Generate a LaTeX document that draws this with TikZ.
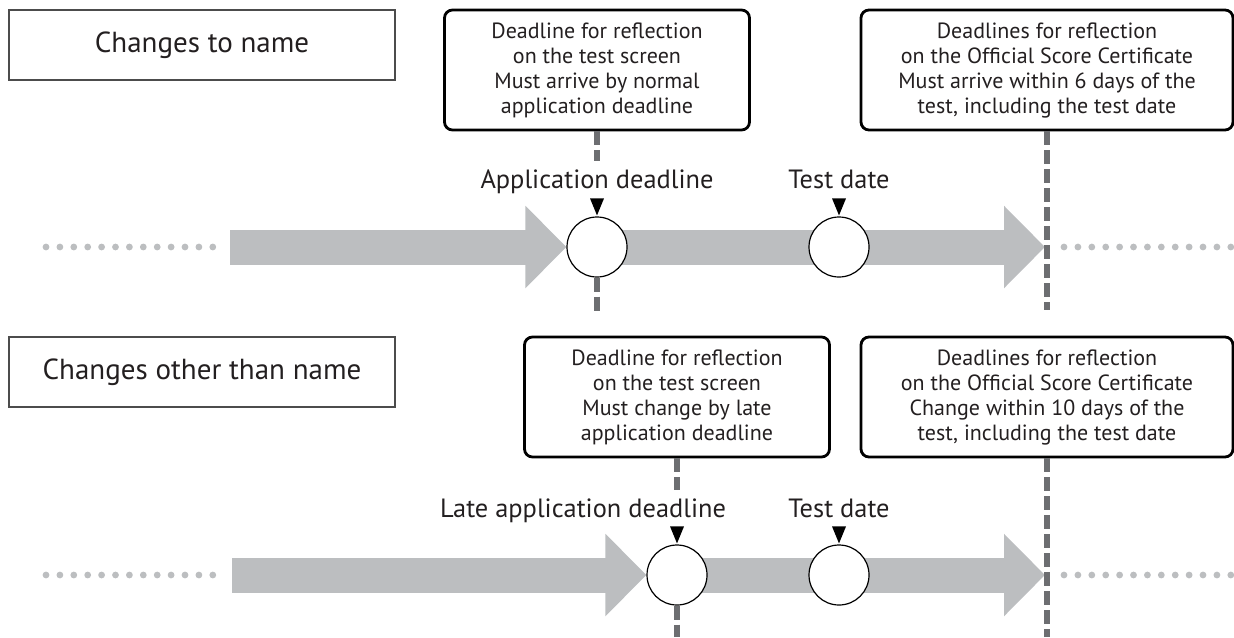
\documentclass[tikz,border=0pt]{standalone}
\usepackage{fontspec}
\setmainfont{PT Sans}
\usetikzlibrary{arrows.meta,backgrounds}
\definecolor{lineGray}{RGB}{188,190,192}
\definecolor{dashGray}{RGB}{109,110,113}
\definecolor{inkDark}{RGB}{35,31,32}

\begin{document}
\begin{tikzpicture}[x=0.5pt, y=-0.5pt, text=inkDark,
    every node/.style={font=\fontsize{11}{12.5}\selectfont},
    rowlabel/.style={draw=black!70, line width=0.7pt, minimum width=193pt, minimum height=35pt, inner sep=0pt, font=\fontsize{14.5}{16}\selectfont},
    notebox/.style={draw=black, line width=1.4pt, rounded corners=4pt, align=center, minimum height=60pt, inner sep=0pt},
    eventdot/.style={circle, draw=black, line width=0.6pt, fill=white, minimum size=30pt, inner sep=0pt},
    datelabel/.style={anchor=base, inner sep=1pt, font=\fontsize{13.2}{15}\selectfont},
    deadline/.style={draw=dashGray, line width=2.6pt, dash pattern=on 7pt off 2.5pt},
    fatarrow/.style={draw=lineGray, line width=17.5pt, -{Triangle[length=20.5pt, width=40pt]}},
    shaft/.style={draw=lineGray, line width=17.5pt}]

\useasboundingbox (0,0) rectangle (1234,637);

% Row labels
\node (nameLbl) at (202,45) [rowlabel] {Changes to name};
\node (otherLbl) at (202,372) [rowlabel] {Changes other than name};

% Note boxes
\node (noteScreenA) at (597,70) [notebox, minimum width=152.5pt] {Deadline for reflection\\on the test screen\\Must arrive by normal\\application deadline};
\node (noteCertA) at (1047,70) [notebox, minimum width=186pt] {Deadlines for reflection\\on the Official Score Certificate\\Must arrive within 6 days of the\\test, including the test date};
\node (noteScreenB) at (677,397) [notebox, minimum width=152.5pt] {Deadline for reflection\\on the test screen\\Must change by late\\application deadline};
\node (noteCertB) at (1047,397) [notebox, minimum width=186pt] {Deadlines for reflection\\on the Official Score Certificate\\Change within 10 days of the\\test, including the test date};

% Events
\node (appA) at (597,247) [eventdot] {};
\node (testA) at (839,247) [eventdot] {};
\node (appB) at (677,575) [eventdot] {};
\node (testB) at (839,575) [eventdot] {};

\node (appLblA) at (597,188) [datelabel] {Application deadline};
\node (testLblA) at (839,188) [datelabel] {Test date};
\node (appLblB) at (583,517) [datelabel] {Late application deadline};
\node (testLblB) at (839,517) [datelabel] {Test date};

\coordinate (startA) at (230,247);
\coordinate (endA) at (1045,247);
\coordinate (startB) at (232,575);
\coordinate (endB) at (1045,575);
\coordinate (appEndA) at (597,313);
\coordinate (certEndA) at (1047,310);
\coordinate (appEndB) at (677,637);
\coordinate (certEndB) at (1047,637);

% Timeline arrows
\begin{scope}[on background layer]
\draw [fatarrow] (startA) -- (appA.west);
\draw [shaft] (appA.center) -- (testA.center);
\draw [fatarrow] (testA.center) -- (endA);
\draw [fatarrow] (startB) -- (appB.west);
\draw [shaft] (appB.center) -- (testB.center);
\draw [fatarrow] (testB.center) -- (endB);
\end{scope}

% Dotted lead-in and lead-out
\foreach \y in {247,575} {
    \foreach \i in {0,...,12} {
        \fill [lineGray] (46+13.9*\i,\y) circle (3.4);
        \fill [lineGray] (1064+13.9*\i,\y) circle (3.4);
    }
}

% Deadlines
\draw [deadline, shorten >=3pt] (noteScreenA.south) -- (appLblA.north);
\draw [deadline] (appA.south) -- (appEndA);
\draw [deadline] (noteCertA.south) -- (certEndA);
\draw [deadline, shorten >=3pt] (noteScreenB.south) -- (appLblB.north -| noteScreenB.south);
\draw [deadline] (appB.south) -- (appEndB);
\draw [deadline] (noteCertB.south) -- (certEndB);

% Markers
\foreach \ev in {appA,testA,appB,testB} {
    \fill [black] (\ev.north) ++(0,-1) -- ++(-7,-17) -- ++(14,0) -- cycle;
}

\end{tikzpicture}
\end{document}
